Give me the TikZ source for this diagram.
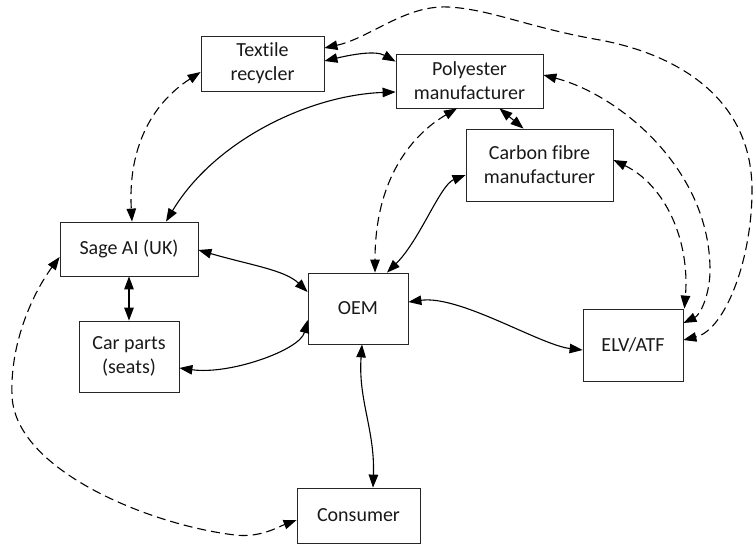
\documentclass[tikz,border=0pt]{standalone}
\usepackage{fontspec}
\setmainfont{Carlito}[Ligatures=NoCommon]
\usetikzlibrary{arrows.meta}
\begin{document}
\begin{tikzpicture}[x=1pt,y=-1pt,
  box/.style={draw=black!85, line width=0.8pt, inner sep=0pt, align=center,
    font=\fontsize{20}{24}\selectfont, text=black!90},
  link/.style={line width=1.1pt, >={Triangle[length=13pt,width=9.5pt]}, <->},
  dsh/.style={link, dash pattern=on 9pt off 5pt}]
\useasboundingbox (0,0) rectangle (753,544);
\node[box, minimum width=123pt, minimum height=55pt] (tex) at (262.5,63.5) {Textile\\recycler};
\node[box, minimum width=147pt, minimum height=54pt] (pol) at (469.5,81) {Polyester\\manufacturer};
\node[box, minimum width=147pt, minimum height=72pt] (car) at (539.5,165) {Carbon fibre\\manufacturer};
\node[box, minimum width=138pt, minimum height=54pt] (sage) at (129,249) {Sage AI (UK)};
\node[box, minimum width=100pt, minimum height=71pt] (cp) at (129,356.5) {Car parts\\(seats)};
\node[box, minimum width=100pt, minimum height=71pt] (oem) at (358,308.5) {OEM};
\node[box, minimum width=100pt, minimum height=72pt] (elv) at (633,345) {ELV/ATF};
\node[box, minimum width=123pt, minimum height=55pt] (con) at (358.5,515.5) {Consumer};
% solid links
\draw[link] ([yshift=2.5pt]tex.east) .. controls (350,55) and (375,50) .. ([yshift=-8pt]pol.north west);
\draw[link] ([xshift=30pt]pol.south) -- ([xshift=-16pt]car.north);
\draw[link] ([yshift=-11pt]pol.west) .. controls (310,95) and (215,140) .. ([xshift=37pt]sage.north);
\draw[link] ([yshift=-10pt]car.west) .. controls (440,185) and (420,240) .. ([xshift=29pt]oem.north);
\draw[link] ([yshift=-1pt]sage.east) .. controls (250,265) and (285,270) .. ([yshift=16.5pt]oem.west);
\draw[link] ([yshift=-11.5pt]cp.east) .. controls (230,375) and (300,350) .. ([yshift=-11.5pt]oem.west);
\draw[link] (sage.south) -- (cp.north);
\draw[link] ([yshift=6.5pt]oem.east) .. controls (460,295) and (540,345) .. ([yshift=-5pt]elv.west);
\draw[link] ([xshift=4pt]oem.south) .. controls (358,400) and (375,430) .. ([xshift=14.5pt]con.north);
% dashed links
\draw[dsh] ([yshift=15.5pt]tex.east) .. controls (370,38) and (405,5) .. (448,7)
  .. controls (490,9) and (530,28) .. (600,40)
  .. controls (680,55) and (752,100) .. (752,190)
  .. controls (752,260) and (725,330) .. ([yshift=5pt]elv.east);
\draw[dsh] ([yshift=6pt]pol.east) .. controls (620,95) and (710,170) .. (710,270)
  .. controls (710,295) and (700,315) .. ([yshift=22pt]elv.east);
\draw[dsh] ([yshift=5pt]car.east) .. controls (665,185) and (690,240) .. ([xshift=1pt]elv.north east);
\draw[dsh] ([yshift=-8.5pt]tex.west) .. controls (150,105) and (128,150) .. ([xshift=3pt]sage.north);
\draw[dsh] ([xshift=-12.5pt]pol.south) .. controls (420,130) and (375,170) .. ([xshift=17pt]oem.north);
\draw[dsh] ([yshift=-8pt]sage.west) .. controls (35,290) and (10,340) .. (12,395)
  .. controls (14,470) and (150,525) .. (235,535)
  .. controls (260,538) and (278,527) .. ([yshift=-4.5pt]con.west);
\end{tikzpicture}
\end{document}
